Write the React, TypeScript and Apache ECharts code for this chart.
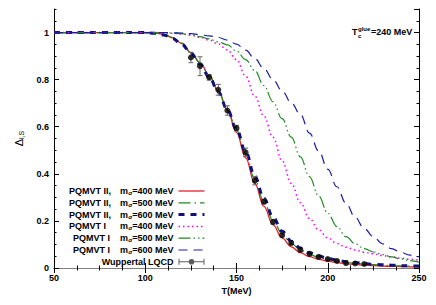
import React, { useEffect, useRef } from 'react';
import * as echarts from 'echarts';

// Temperature grid (MeV) for the model curves
const TEMPS = [50, 100, 105, 110, 115, 120, 125, 130, 135, 140, 145, 150, 155, 160, 165, 170, 175, 180, 185, 190, 195, 200, 205, 210, 215, 220, 225, 230, 235, 240, 245, 250];

const PQMVT2_400 = [1, 1, 0.998, 0.992, 0.978, 0.953, 0.915, 0.872, 0.82, 0.752, 0.67, 0.575, 0.468, 0.36, 0.262, 0.183, 0.127, 0.09, 0.065, 0.048, 0.037, 0.029, 0.023, 0.018, 0.015, 0.012, 0.01, 0.008, 0.007, 0.006, 0.005, 0.004];
const PQMVT2_500 = [1, 1, 0.998, 0.993, 0.979, 0.955, 0.917, 0.872, 0.818, 0.752, 0.673, 0.585, 0.485, 0.378, 0.282, 0.203, 0.145, 0.104, 0.077, 0.058, 0.045, 0.036, 0.029, 0.024, 0.02, 0.017, 0.014, 0.012, 0.01, 0.009, 0.008, 0.007];
const PQMVT2_600 = [1, 1, 0.997, 0.99, 0.975, 0.95, 0.912, 0.866, 0.812, 0.748, 0.672, 0.59, 0.494, 0.39, 0.296, 0.216, 0.156, 0.114, 0.085, 0.065, 0.051, 0.041, 0.033, 0.027, 0.023, 0.019, 0.016, 0.014, 0.012, 0.01, 0.009, 0.008];
const PQMVT1_400 = [1, 1, 1, 0.999, 0.997, 0.994, 0.989, 0.98, 0.968, 0.952, 0.926, 0.885, 0.815, 0.73, 0.645, 0.555, 0.455, 0.36, 0.277, 0.21, 0.162, 0.128, 0.104, 0.088, 0.076, 0.067, 0.06, 0.053, 0.047, 0.042, 0.037, 0.033];
const PQMVT1_500 = [1, 1, 1, 1, 0.998, 0.995, 0.99, 0.983, 0.973, 0.96, 0.948, 0.922, 0.885, 0.838, 0.775, 0.706, 0.634, 0.556, 0.472, 0.388, 0.306, 0.233, 0.176, 0.133, 0.103, 0.082, 0.068, 0.057, 0.047, 0.039, 0.031, 0.025];
const PQMVT1_600 = [1, 1, 1, 1, 0.999, 0.998, 0.995, 0.991, 0.986, 0.979, 0.968, 0.951, 0.925, 0.89, 0.847, 0.8, 0.752, 0.702, 0.652, 0.573, 0.497, 0.42, 0.345, 0.275, 0.215, 0.168, 0.133, 0.103, 0.082, 0.066, 0.055, 0.047];

// Wuppertal LQCD points
const LQCD_T = [125, 130, 135, 140, 145, 150, 155, 160, 165, 170, 175, 180, 185, 190, 195, 200, 205, 210, 215, 220];
const LQCD_V = [0.894, 0.857, 0.81, 0.757, 0.669, 0.594, 0.491, 0.371, 0.282, 0.196, 0.14, 0.106, 0.077, 0.06, 0.047, 0.038, 0.03, 0.021, 0.019, 0.017];
const LQCD_ERR = [0.022, 0.04, 0.012, 0.023, 0.02, 0.012, 0.018, 0.018, 0.01, 0.01, 0.008, 0.006, 0.006, 0.005, 0.004, 0.004, 0.003, 0.003, 0.003, 0.003];

const NAMES = [
  'PQMVT II,  mσ=400 MeV',
  'PQMVT II,  mσ=500 MeV',
  'PQMVT II,  mσ=600 MeV',
  'PQMVT I    mσ=400 MeV',
  'PQMVT I   mσ=500 MeV',
  'PQMVT I   mσ=600 MeV',
  'Wuppertal LQCD',
];
const LEGEND_RICH = [
  '{t|PQMVT II,}{g1|m}{s|σ}{t|=400 MeV}',
  '{t|PQMVT II,}{g1|m}{s|σ}{t|=500 MeV}',
  '{t|PQMVT II,}{g1|m}{s|σ}{t|=600 MeV}',
  '{t|PQMVT I}{g2|m}{s|σ}{t|=400 MeV}',
  '{t|PQMVT I}{g3|m}{s|σ}{t|=500 MeV}',
  '{t|PQMVT I}{g3|m}{s|σ}{t|=600 MeV}',
  '{t|Wuppertal LQCD}',
];

const F = "'Liberation Sans', Arial, Helvetica, sans-serif";

const CURVES = [
  { vals: PQMVT2_400, color: '#e8202a', width: 1.3, type: 'solid' as any },
  { vals: PQMVT2_500, color: '#1e8c1e', width: 1.2, type: [12, 4, 1.5, 4] },
  { vals: PQMVT2_600, color: '#10107a', width: 3, type: [6, 6] },
  { vals: PQMVT1_400, color: '#ff00ff', width: 1.5, type: [1.5, 3] },
  { vals: PQMVT1_500, color: '#1e8c1e', width: 1.2, type: [12, 3, 1.5, 3, 1.5, 3] },
  { vals: PQMVT1_600, color: '#1c1ca6', width: 1.2, type: [9, 6] },
];

export default function App() {
  const ref = useRef<HTMLDivElement>(null);
  useEffect(() => {
    document.body.style.margin = '0';
    const chart = echarts.init(ref.current!, null, { renderer: 'svg' });
    const tok = { fontFamily: F, fontSize: 9, fontWeight: 'bold', color: '#000', lineHeight: 10 };
    const lineSeries = CURVES.map((c, i) => ({
      name: NAMES[i],
      type: 'line',
      xAxisIndex: 0,
      yAxisIndex: 0,
      data: TEMPS.map((t, k) => [t, c.vals[k]]),
      symbol: 'none',
      smooth: 0.4,
      smoothMonotone: 'x',
      lineStyle: { color: c.color, width: c.width, type: c.type },
      itemStyle: { color: c.color },
      z: 2 + i,
    }));
    const axisLabelStyle = { fontFamily: F, fontSize: 9, fontWeight: 'bold', color: '#000' };
    const option: any = {
      animation: false,
      backgroundColor: '#fff',
      grid: { left: 54, right: 17, top: 9, bottom: 37, containLabel: false },
      legend: {
        orient: 'vertical',
        align: 'right',
        right: 230,
        top: 186,
        padding: 0,
        itemGap: 1.8,
        itemWidth: 26,
        itemHeight: 10,
        selectedMode: false,
        data: [
          ...CURVES.map((c, i) => ({
            name: NAMES[i],
            lineStyle: { color: c.color, width: c.width, type: c.type },
            itemStyle: { color: 'rgba(0,0,0,0)', borderColor: 'rgba(0,0,0,0)', borderWidth: 0, opacity: 0 },
          })),
          {
            name: NAMES[6],
            icon: 'path://M0,4.5H26V5.5H0Z M0,2H1V8H0Z M25,2H26V8H25Z M10.2,5A2.8,2.8 0 1 1 15.8,5A2.8,2.8 0 1 1 10.2,5Z',
            itemStyle: { color: '#333' },
          },
        ],
        formatter: (name: string) => LEGEND_RICH[NAMES.indexOf(name)],
        textStyle: {
          ...tok,
          rich: {
            t: { ...tok },
            g1: { ...tok, padding: [0, 0, 0, 9] },
            g2: { ...tok, padding: [0, 0, 0, 14] },
            g3: { ...tok, padding: [0, 0, 0, 10] },
            s: { fontFamily: F, fontSize: 6, fontWeight: 'bold', color: '#000', lineHeight: 3, verticalAlign: 'bottom' },
          },
        },
      },
      xAxis: [
        {
          type: 'value', position: 'bottom', min: 50, max: 250, interval: 50,
          axisLine: { show: true, lineStyle: { color: '#000', width: 1 } },
          axisTick: { show: true, inside: true, length: 5, lineStyle: { color: '#000' } },
          minorTick: { show: true, splitNumber: 4, length: 2.5, lineStyle: { color: '#000' } },
          splitLine: { show: false },
          axisLabel: { ...axisLabelStyle, margin: 5 },
          name: 'T(MeV)', nameLocation: 'middle', nameGap: 18,
          nameTextStyle: { ...axisLabelStyle },
        },
        {
          type: 'value', position: 'top', min: 50, max: 250, interval: 50,
          axisLine: { show: true, lineStyle: { color: '#808080', width: 1 } },
          axisTick: { show: true, inside: true, length: 5, lineStyle: { color: '#000' } },
          minorTick: { show: true, splitNumber: 4, length: 2.5, lineStyle: { color: '#000' } },
          splitLine: { show: false },
          axisLabel: { show: false },
        },
      ],
      yAxis: [
        {
          type: 'value', position: 'left', min: 0, max: 1.1, interval: 0.2,
          axisLine: { show: true, lineStyle: { color: '#000', width: 1 } },
          axisTick: { show: true, inside: true, length: 5, lineStyle: { color: '#000' } },
          splitLine: { show: false },
          axisLabel: { ...axisLabelStyle, margin: 5, showMaxLabel: false },
          name: '{d|Δ}{s|l,S}', nameLocation: 'middle', nameRotate: 90, nameGap: 29,
          nameTextStyle: {
            rich: {
              d: { fontFamily: F, fontSize: 11, color: '#000', lineHeight: 13 },
              s: { fontFamily: F, fontSize: 7, color: '#000', lineHeight: 4, verticalAlign: 'bottom' },
            },
          },
        },
        {
          type: 'value', position: 'left', min: 0, max: 1.1, interval: 0.05,
          axisLine: { show: false },
          axisTick: { show: true, inside: true, length: 2.5, lineStyle: { color: '#000' } },
          splitLine: { show: false },
          axisLabel: { show: false },
        },
        {
          type: 'value', position: 'right', min: 0, max: 1.1, interval: 0.2,
          axisLine: { show: true, lineStyle: { color: '#000', width: 1 } },
          axisTick: { show: true, inside: true, length: 5, lineStyle: { color: '#000' } },
          splitLine: { show: false },
          axisLabel: { show: false },
        },
        {
          type: 'value', position: 'right', min: 0, max: 1.1, interval: 0.05,
          axisLine: { show: false },
          axisTick: { show: true, inside: true, length: 2.5, lineStyle: { color: '#000' } },
          splitLine: { show: false },
          axisLabel: { show: false },
        },
      ],
      graphic: [
        {
          type: 'group',
          children: [
            { type: 'text', x: 352, y: 32, style: { text: 'T', font: `bold 9px ${F}`, fill: '#000', verticalAlign: 'middle' } },
            { type: 'text', x: 358, y: 28.5, style: { text: 'glue', font: `bold 6px ${F}`, fill: '#000', verticalAlign: 'middle' } },
            { type: 'text', x: 358, y: 35.5, style: { text: 'c', font: `bold 6px ${F}`, fill: '#000', verticalAlign: 'middle' } },
            { type: 'text', x: 371, y: 32, style: { text: '=240 MeV', font: `bold 9px ${F}`, fill: '#000', verticalAlign: 'middle' } },
          ],
        },
      ],
      series: [
        ...lineSeries,
        {
          name: 'errorbars',
          type: 'custom',
          xAxisIndex: 0,
          yAxisIndex: 0,
          z: 20,
          data: LQCD_T.map((t, i) => [t, LQCD_V[i] - LQCD_ERR[i], LQCD_V[i] + LQCD_ERR[i]]),
          encode: { x: 0, y: [1, 2] },
          renderItem: (params: any, api: any) => {
            const x = api.value(0);
            const p1 = api.coord([x, api.value(1)]);
            const p2 = api.coord([x, api.value(2)]);
            const w = 2.5;
            const st = { stroke: '#666', lineWidth: 1 };
            return {
              type: 'group',
              children: [
                { type: 'line', shape: { x1: p1[0], y1: p1[1], x2: p2[0], y2: p2[1] }, style: st },
                { type: 'line', shape: { x1: p1[0] - w, y1: p1[1], x2: p1[0] + w, y2: p1[1] }, style: st },
                { type: 'line', shape: { x1: p2[0] - w, y1: p2[1], x2: p2[0] + w, y2: p2[1] }, style: st },
              ],
            };
          },
        },
        {
          name: NAMES[6],
          type: 'scatter',
          xAxisIndex: 0,
          yAxisIndex: 0,
          z: 21,
          symbol: 'circle',
          symbolSize: 6,
          itemStyle: { color: '#000' },
          data: LQCD_T.map((t, i) => [t, LQCD_V[i]]),
        },
      ],
    };
    chart.setOption(option);
    return () => chart.dispose();
  }, []);
  return <div ref={ref} style={{ width: 436, height: 305, position: 'absolute', left: 0, top: 0 }} />;
}
